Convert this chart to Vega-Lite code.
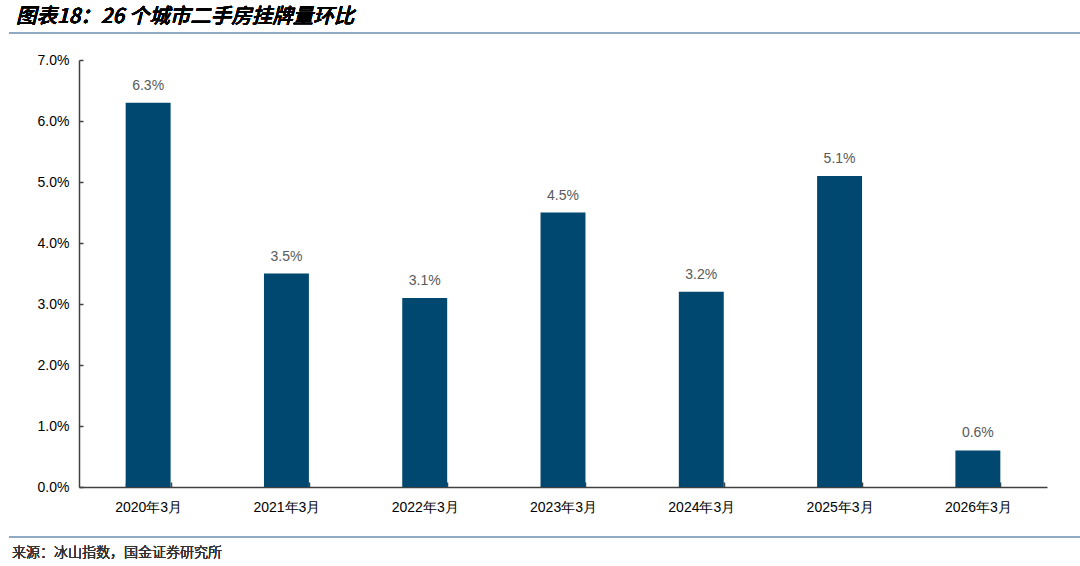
{
  "$schema": "https://vega.github.io/schema/vega-lite/v6.json",
  "width": 968,
  "height": 427,
  "autosize": {"type": "none"},
  "padding": {"left": 79, "top": 60, "right": 33, "bottom": 79},
  "background": "white",
  "config": {"view": {"stroke": null}, "font": "Liberation Sans"},
  "data": {
    "values": [
      {"month": "2020年3月", "v": 0.063},
      {"month": "2021年3月", "v": 0.035},
      {"month": "2022年3月", "v": 0.031},
      {"month": "2023年3月", "v": 0.045},
      {"month": "2024年3月", "v": 0.032},
      {"month": "2025年3月", "v": 0.051},
      {"month": "2026年3月", "v": 0.006}
    ]
  },
  "encoding": {
    "x": {
      "field": "month",
      "type": "nominal",
      "sort": null,
      "scale": {"paddingInner": 0.675, "paddingOuter": 0.3375},
      "axis": {
        "title": null,
        "labelAngle": 0,
        "labelFont": "Liberation Sans",
        "labelFontSize": 14,
        "labelColor": "#000000",
        "labelPadding": 18,
        "tickBand": "extent",
        "tickSize": -5,
        "tickColor": "#404040",
        "tickWidth": 1.5,
        "domainColor": "#404040",
        "domainWidth": 1.5
      }
    }
  },
  "layer": [
    {
      "mark": {"type": "bar", "color": "#00486F"},
      "encoding": {
        "y": {
          "field": "v",
          "type": "quantitative",
          "scale": {"domain": [0, 0.07], "nice": false},
          "axis": {
            "title": null,
            "format": ".1%",
            "values": [0, 0.01, 0.02, 0.03, 0.04, 0.05, 0.06, 0.07],
            "grid": false,
            "labelFont": "Liberation Sans",
            "labelFontSize": 14,
            "labelColor": "#000000",
            "labelPadding": 14,
            "tickSize": -4,
            "tickColor": "#404040",
            "tickWidth": 1.5,
            "domainColor": "#404040",
            "domainWidth": 1.5
          }
        }
      }
    },
    {
      "mark": {"type": "text", "baseline": "bottom", "dy": -10, "fontSize": 14, "color": "#595959", "font": "Liberation Sans"},
      "encoding": {
        "y": {"field": "v", "type": "quantitative"},
        "text": {"field": "v", "type": "quantitative", "format": ".1%"}
      }
    },
    {
      "mark": {"type": "rule", "color": "#8FAAC2", "strokeWidth": 1.5},
      "encoding": {
        "x": {"value": -70},
        "x2": {"value": 1001},
        "y": {"value": -27}
      }
    },
    {
      "mark": {"type": "rule", "color": "#8FAAC2", "strokeWidth": 1.5},
      "encoding": {
        "x": {"value": -70},
        "x2": {"value": 1001},
        "y": {"value": 477}
      }
    },
    {
      "mark": {"type": "text", "align": "left", "baseline": "middle", "fontSize": 20.5, "fontWeight": 500, "fontStyle": "italic", "color": "#000000", "font": "Noto Sans CJK SC", "text": "图表18：26 个城市二手房挂牌量环比"},
      "encoding": {
        "x": {"value": -63},
        "y": {"value": -43}
      }
    },
    {
      "mark": {"type": "text", "align": "left", "baseline": "middle", "fontSize": 14, "fontWeight": 300, "letterSpacing": 1.7, "color": "#333333", "font": "Noto Sans CJK SC", "text": "来源：冰山指数，国金证券研究所"},
      "encoding": {
        "x": {"value": -67},
        "y": {"value": 493}
      }
    }
  ]
}
